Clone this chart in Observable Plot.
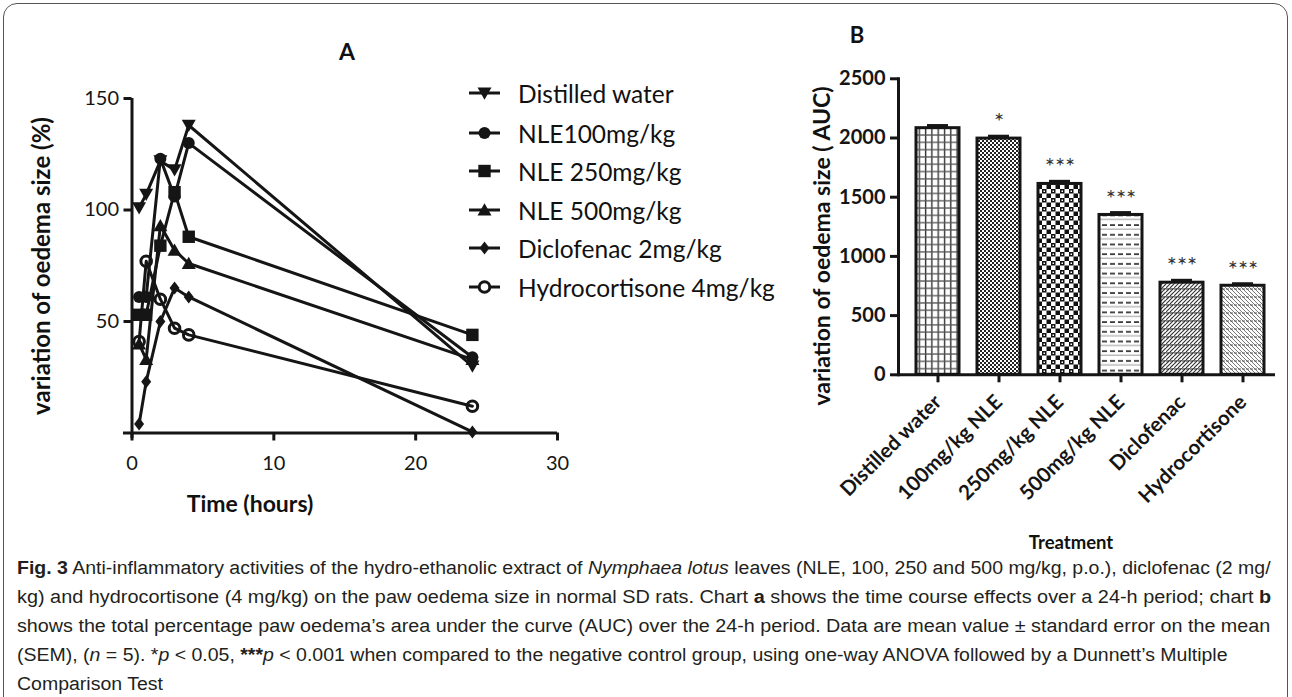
<!DOCTYPE html>
<html><head><meta charset="utf-8">
<script src="https://cdn.jsdelivr.net/npm/d3@7"></script>
<script src="https://cdn.jsdelivr.net/npm/@observablehq/plot@0.6"></script>
<style>
html,body{margin:0;padding:0;background:#fff}
body{width:1292px;height:697px;overflow:hidden;position:relative;font-family:Lato,"Open Sans",sans-serif;color:#111}
.abs{position:absolute}
#border{left:3px;top:3px;width:1283px;height:730px;border:1.5px solid #555;border-radius:14px}
.title{font-weight:bold;font-size:23px;transform:translate(-50%,-50%)}
.vlabel{font-weight:bold;white-space:nowrap;transform:translate(-50%,-50%) rotate(-90deg)}
.hlabel{font-weight:bold;white-space:nowrap;transform:translate(-50%,-50%)}
#legend .row{position:absolute;left:466px;height:36px;display:flex;align-items:center;font-size:24.5px;white-space:nowrap}
#legend svg{margin-right:12px}
#plotB text{font-weight:700}
#plotB g[aria-label="text"] text{font-weight:400}
.cap{position:absolute;left:17px;white-space:nowrap;font-family:"Liberation Sans Narrow","Liberation Sans",sans-serif;font-size:18px;line-height:29px;color:#231f20;transform-origin:0 50%}
</style></head><body>
<div id="border" class="abs"></div>
<div id="plotA" class="abs" style="left:0;top:0"></div>
<div id="plotB" class="abs" style="left:790px;top:0"></div>
<div class="abs title" style="left:347px;top:51px">A</div>
<div class="abs title" style="left:857px;top:34px;font-size:22px">B</div>
<div class="abs vlabel" style="left:40px;top:266px;font-size:24px">variation of oedema size (%)</div>
<div class="abs hlabel" style="left:250px;top:503px;font-size:23px">Time (hours)</div>
<div class="abs vlabel" style="left:821px;top:246px;font-size:23px">variation of oedema size ( AUC)</div>
<div class="abs hlabel" style="left:1071px;top:542px;font-size:18.5px">Treatment</div>
<div id="legend" class="abs" style="left:0;top:0"></div>
<div id="caption"></div>
<script>
// ---------- Data: panel A (time course) ----------
const times = [0.5, 1, 2, 3, 4, 24];
const seriesNames = ["Distilled water", "NLE100mg/kg", "NLE 250mg/kg", "NLE 500mg/kg", "Diclofenac 2mg/kg", "Hydrocortisone 4mg/kg"];
const distilledWater = [101, 107, 122, 118, 138, 30];
const nle100 = [61, 61, 123, 106, 130, 34];
const nle250 = [53, 53, 84, 108, 88, 44];
const nle500 = [40, 33, 93, 82, 76, 33];
const diclofenac = [4, 23, 50, 65, 61, 0.5];
const hydrocortisone = [41, 77, 60, 47, 44, 12];
const yTicksA = [50, 100, 150];
const xTicksA = [0, 10, 20, 30];

// ---------- Data: panel B (AUC) ----------
const treatments = ["Distilled water", "100mg/kg NLE", "250mg/kg NLE", "500mg/kg NLE", "Diclofenac", "Hydrocortisone"];
const auc = [2083, 1995, 1612, 1350, 778, 752];
const sem = [20, 18, 20, 18, 18, 15];
const significance = ["", "*", "***", "***", "***", "***"];
const yTicksB = [0, 500, 1000, 1500, 2000, 2500];

// ---------- symbols ----------
const sym = fn => ({draw(ctx, size){ fn(ctx, Math.sqrt(size / Math.PI)); }});
const invTriangle = sym((c, r) => { c.moveTo(-r, -r*0.8); c.lineTo(r, -r*0.8); c.lineTo(0, r*0.95); c.closePath(); });
const upTriangle = sym((c, r) => { c.moveTo(-r, r*0.8); c.lineTo(r, r*0.8); c.lineTo(0, -r*0.95); c.closePath(); });
const square = sym((c, r) => { c.rect(-r, -r, 2*r, 2*r); });
const diamond = sym((c, r) => { c.moveTo(0, -r*1.3); c.lineTo(r, 0); c.lineTo(0, r*1.3); c.lineTo(-r, 0); c.closePath(); });
const circle = sym((c, r) => { c.moveTo(r, 0); c.arc(0, 0, r, 0, 2*Math.PI); });

const seriesValues = [distilledWater, nle100, nle250, nle500, diclofenac, hydrocortisone];
const seriesStyle = [
  {symbol: invTriangle, r: 7, fill: "#111", stroke: "none"},
  {symbol: circle, r: 6, fill: "#111", stroke: "none"},
  {symbol: square, r: 6.2, fill: "#111", stroke: "none"},
  {symbol: upTriangle, r: 7, fill: "#111", stroke: "none"},
  {symbol: diamond, r: 5, fill: "#111", stroke: "none"},
  {symbol: circle, r: 5.3, fill: "none", stroke: "#111"}
];
const series = seriesNames.map((name, k) => ({name, rows: times.map((t, i) => ({series: name, time: t, value: seriesValues[k][i]})), ...seriesStyle[k]}));

const ink = "#151515";
const plotA = Plot.plot({
  width: 600, height: 520,
  marginLeft: 131.5, marginRight: 43, marginTop: 98, marginBottom: 87.5,
  style: {fontFamily: "Lato", background: "transparent", overflow: "visible", color: ink},
  x: {domain: [0, 30]},
  y: {domain: [0, 150]},
  marks: [
    ...series.map(s => Plot.line(s.rows, {x: "time", y: "value", stroke: ink, strokeWidth: 3})),
    ...series.map(s => Plot.dot(s.rows, {x: "time", y: "value", symbol: s.symbol, r: s.r, fill: s.fill === "none" ? "none" : ink, stroke: s.stroke === "none" ? "none" : ink, strokeWidth: 3})),
    Plot.ruleX([0], {y1: -2.5, y2: 150, stroke: ink, strokeWidth: 3}),
    Plot.ruleY([0], {x1: -0.6, x2: 30, stroke: ink, strokeWidth: 3}),
    Plot.axisY({ticks: yTicksA, tickSize: 8, strokeWidth: 3, fontSize: 20, tickPadding: 5, label: null}),
    Plot.axisX({ticks: xTicksA, tickSize: 8, strokeWidth: 3, fontSize: 20, tickPadding: 15, label: null})
  ]
});
document.getElementById("plotA").appendChild(plotA);

// legend
const legend = document.getElementById("legend");
const legendTops = [93, 133, 171, 210, 248, 287];
series.forEach((s, k) => {
  const row = document.createElement("div");
  row.className = "row";
  row.style.top = (legendTops[k] - 18) + "px";
  const svg = d3.create("svg").attr("width", 40).attr("height", 24);
  svg.append("line").attr("x1", 3).attr("x2", 34).attr("y1", 12).attr("y2", 12).attr("stroke", ink).attr("stroke-width", 3);
  const p = d3.path();
  s.symbol.draw(p, Math.PI * s.r * s.r);
  svg.append("path").attr("transform", "translate(18.5,12)").attr("d", p.toString())
    .attr("fill", s.fill === "none" ? "#fff" : ink).attr("stroke", s.stroke === "none" ? "none" : ink).attr("stroke-width", 3);
  row.appendChild(svg.node());
  const t = document.createElement("span");
  t.textContent = s.name;
  row.appendChild(t);
  legend.appendChild(row);
});

// ---------- panel B ----------
const barData = treatments.map((t, i) => ({treatment: t, auc: auc[i], sem: sem[i], sig: significance[i], pattern: `url(#pat${i})`}));
const plotB = Plot.plot({
  width: 502, height: 540,
  marginLeft: 108, marginRight: 17, marginTop: 78.3, marginBottom: 165.7,
  style: {fontFamily: "Lato", fontWeight: "bold", background: "transparent", overflow: "visible", color: ink},
  x: {domain: treatments, paddingInner: 0.29, paddingOuter: 0.22, align: 0.63},
  y: {domain: [0, 2500]},
  color: {type: "identity"},
  marks: [
    Plot.barY(barData, {x: "treatment", y: "auc", fill: "pattern", stroke: ink, strokeWidth: 3}),
    Plot.ruleX(barData, {x: "treatment", y1: "auc", y2: d => d.auc + d.sem, stroke: ink, strokeWidth: 3}),
    Plot.tickY(barData, {x: "treatment", y: d => d.auc + d.sem, stroke: ink, strokeWidth: 3.5, insetLeft: 11, insetRight: 11}),
    Plot.text(barData, {x: "treatment", y: d => d.auc + d.sem, text: "sig", dy: -14, fontSize: 24, fontWeight: "normal", fill: "#333"}),
    Plot.ruleY([0], {stroke: ink, strokeWidth: 3}),
    Plot.frame({anchor: "left", stroke: ink, strokeWidth: 3}),
    Plot.axisY({ticks: yTicksB, tickFormat: d3.format("d"), tickSize: 8, strokeWidth: 3, fontSize: 20, fontWeight: "bold", tickPadding: 5, label: null}),
    Plot.axisX({tickRotate: -45, tickSize: 8, strokeWidth: 3, fontSize: 20.5, fontWeight: "bold", tickPadding: 16, label: null})
  ]
});
// pattern definitions for the bars
const defs = d3.select(plotB).insert("defs", ":first-child");
function pat(id, w, h, build){ const p = defs.append("pattern").attr("id", id).attr("patternUnits", "userSpaceOnUse").attr("width", w).attr("height", h); p.append("rect").attr("width", w).attr("height", h).attr("fill", "#fff"); build(p); }
pat("pat0", 6.3, 7.3, p => {
  p.append("rect").attr("x", 2.6).attr("y", 0).attr("width", 1.4).attr("height", 7.3).attr("fill", "#333");
  p.append("rect").attr("x", 0).attr("y", 3).attr("width", 6.3).attr("height", 1.3).attr("fill", "#555");
});
pat("pat1", 4, 4, p => {
  p.append("rect").attr("width", 2).attr("height", 2).attr("fill", "#222");
  p.append("rect").attr("x", 2).attr("y", 2).attr("width", 2).attr("height", 2).attr("fill", "#222");
});
pat("pat2", 9, 9, p => {
  p.append("rect").attr("width", 4.5).attr("height", 4.5).attr("fill", "#111");
  p.append("rect").attr("x", 4.5).attr("y", 4.5).attr("width", 4.5).attr("height", 4.5).attr("fill", "#111");
  p.append("rect").attr("x", 1.5).attr("y", 1.5).attr("width", 1.5).attr("height", 1.5).attr("fill", "#fff");
});
pat("pat3", 8, 9.7, p => {
  p.append("line").attr("x1", 0).attr("x2", 8).attr("y1", 2).attr("y2", 2).attr("stroke", "#222").attr("stroke-width", 1.6).attr("stroke-dasharray", "5 3");
  p.append("line").attr("x1", 0).attr("x2", 8).attr("y1", 6).attr("y2", 6).attr("stroke", "#999").attr("stroke-width", 1);
});
pat("pat4", 8, 8, p => {
  p.append("path").attr("d", "M0,4L4,0M0,8L8,0M4,8L8,4").attr("stroke", "#333").attr("stroke-width", 1.1);
  p.append("line").attr("x1", 0).attr("x2", 8).attr("y1", 1).attr("y2", 1).attr("stroke", "#222").attr("stroke-width", 1.2).attr("stroke-dasharray", "3 1");
});
pat("pat5", 8, 8, p => {
  p.append("path").attr("d", "M0,4L4,8M0,0L8,8M4,0L8,4").attr("stroke", "#777").attr("stroke-width", 1);
  p.append("line").attr("x1", 0).attr("x2", 8).attr("y1", 1).attr("y2", 1).attr("stroke", "#555").attr("stroke-width", 1).attr("stroke-dasharray", "3 1");
});
document.getElementById("plotB").appendChild(plotB);

// ---------- caption ----------
const captionLines = [
  '<b>Fig. 3</b> Anti-inflammatory activities of the hydro-ethanolic extract of <i>Nymphaea lotus</i> leaves (NLE, 100, 250 and 500 mg/kg, p.o.), diclofenac (2 mg/',
  'kg) and hydrocortisone (4 mg/kg) on the paw oedema size in normal SD rats. Chart <b>a</b> shows the time course effects over a 24-h period; chart <b>b</b>',
  'shows the total percentage paw oedema’s area under the curve (AUC) over the 24-h period. Data are mean value ± standard error on the mean',
  '(SEM), (<i>n</i> = 5). *<i>p</i> &lt; 0.05, <b>***</b><i>p</i> &lt; 0.001 when compared to the negative control group, using one-way ANOVA followed by a Dunnett’s Multiple',
  'Comparison Test'
];
const captionWidths = [1254, 1254, 1253, 1211, null];
const capEl = document.getElementById("caption");
const capDivs = captionLines.map((html, i) => {
  const d = document.createElement("div");
  d.className = "cap";
  d.style.top = (553.5 + 29 * i) + "px";
  d.innerHTML = html;
  capEl.appendChild(d);
  return d;
});
function fitCaption(){
  let last = 1;
  capDivs.forEach((d, i) => {
    d.style.transform = "none";
    const natural = d.scrollWidth;
    const s = captionWidths[i] ? captionWidths[i] / natural : last;
    d.style.transform = `scaleX(${s})`;
    last = s;
  });
}
fitCaption();
if (document.fonts && document.fonts.ready) document.fonts.ready.then(fitCaption);
</script>
</body></html>
